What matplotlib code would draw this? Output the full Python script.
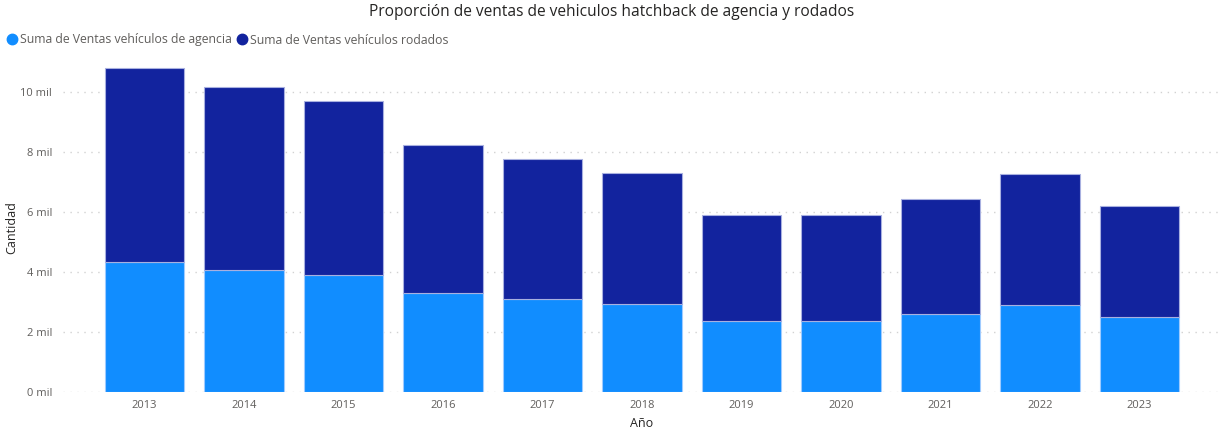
import numpy as np
import matplotlib.pyplot as plt
from matplotlib.lines import Line2D

# Datos (en miles)
anios = ['2013', '2014', '2015', '2016', '2017', '2018', '2019', '2020', '2021', '2022', '2023']
agencia = [4.35, 4.08, 3.89, 3.31, 3.12, 2.94, 2.37, 2.37, 2.59, 2.91, 2.50]
rodados = [6.46, 6.09, 5.81, 4.95, 4.66, 4.36, 3.54, 3.54, 3.85, 4.35, 3.72]
ticks_y = [0, 2, 4, 6, 8, 10]

col_agencia = '#118DFF'
col_rodados = '#12239E'
gris = '#605E5C'

plt.rcParams['font.family'] = ['Open Sans', 'DejaVu Sans']

fig = plt.figure(figsize=(12.21, 4.30), dpi=100)
ax = fig.add_axes([63 / 1221, 38 / 430, (1220 - 63) / 1221, (392.3 - 62.7) / 430])

x = np.arange(len(anios))
ax.bar(x, agencia, width=0.8, color=col_agencia, edgecolor='#9FCBFF', linewidth=0.8)
ax.bar(x, rodados, width=0.8, bottom=agencia, color=col_rodados, edgecolor='#A8B0E0', linewidth=0.8)

ax.set_xlim(-0.82, 10.81)
ax.set_ylim(0, 11)
ax.set_yticks(ticks_y)
ax.set_yticklabels([f'{t} mil' for t in ticks_y])
ax.set_xticks(x)
ax.set_xticklabels(anios)
ax.tick_params(axis='both', length=0, labelsize=8, colors=gris, pad=6)
ax.tick_params(axis='y', pad=8)
ax.yaxis.grid(True, linestyle=(0, (1, 4)), color='#D2D2D2', linewidth=1)
ax.set_axisbelow(True)
for s in ax.spines.values():
    s.set_visible(False)

ax.set_xlabel('Año', fontsize=9, color='#252423', labelpad=4)
fig.text(12 / 1221, 1 - 228 / 430, 'Cantidad', rotation=90, fontsize=9, color='#252423',
         ha='center', va='center')

fig.text(612 / 1221, 1 - 12 / 430, 'Proporción de ventas de vehiculos hatchback de agencia y rodados',
         ha='center', va='center', fontsize=11.2, color='#252423', fontweight='medium')

handles = [Line2D([], [], marker='o', linestyle='', color=col_agencia, markersize=7.5),
           Line2D([], [], marker='o', linestyle='', color=col_rodados, markersize=7.5)]
fig.legend(handles, ['Suma de Ventas vehículos de agencia', 'Suma de Ventas vehículos rodados'],
           loc='center left', bbox_to_anchor=(0, 1 - 40 / 430), ncol=2, frameon=False,
           fontsize=8.8, labelcolor=gris, handletextpad=0.0, columnspacing=0.3, borderaxespad=0,
           handlelength=1.2)

fig.savefig('out.png', dpi=100)
